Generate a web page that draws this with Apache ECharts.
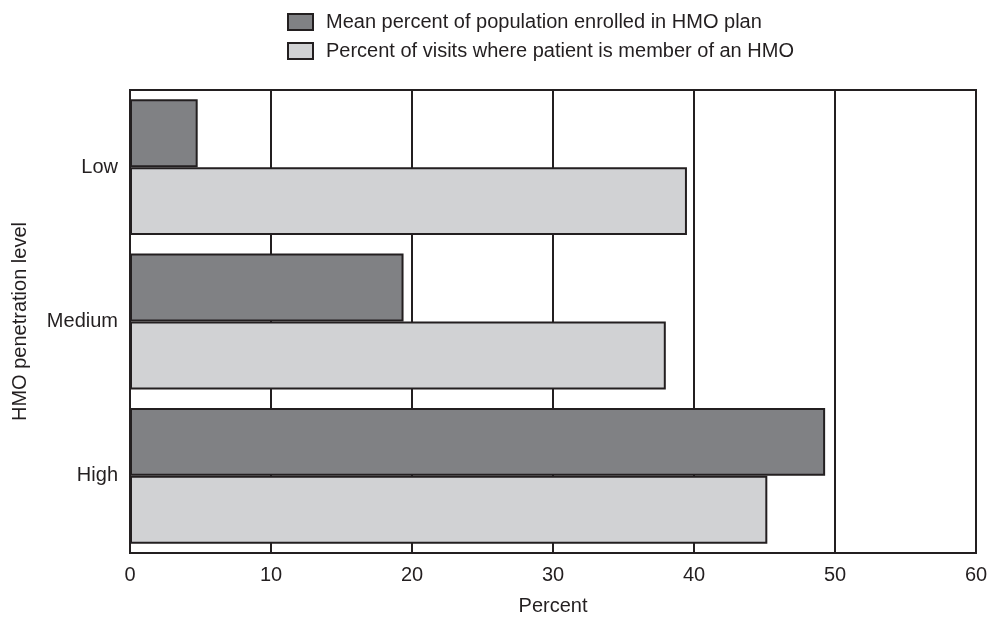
<!DOCTYPE html>
<html>
<head>
<meta charset="utf-8">
<script src="https://cdn.jsdelivr.net/npm/echarts@6/dist/echarts.min.js"></script>
<style>html,body{margin:0;padding:0;background:#fff;}#c{width:990px;height:617px;}</style>
</head>
<body>
<div id="c"></div>
<script>
const categories = ['Low', 'Medium', 'High'];
const seriesNames = ['Mean percent of population enrolled in HMO plan', 'Percent of visits where patient is member of an HMO'];
const meanEnrolled = [4.8, 19.4, 49.3];
const visitsHMO = [39.5, 38.0, 45.2];
const xTicks = [0, 10, 20, 30, 40, 50, 60];

const ink = '#231f20';
const font = 'Liberation Sans, Arial, Helvetica, sans-serif';
const fs = 20;
const chart = echarts.init(document.getElementById('c'));
chart.setOption({
  animation: false,
  backgroundColor: '#fff',
  legend: {
    orient: 'vertical', left: 282, top: 7,
    itemWidth: 25, itemHeight: 16, itemGap: 9,
    icon: 'rect',
    textStyle: { fontFamily: font, fontSize: fs, color: ink, padding: [0, 0, 0, 8] },
    data: seriesNames
  },
  grid: { left: 130, right: 14, top: 90, bottom: 64, show: true, borderColor: ink, borderWidth: 2,
          containLabel: false, outerBoundsMode: 'none' },
  xAxis: {
    type: 'value', min: xTicks[0], max: xTicks[xTicks.length - 1], interval: 10,
    name: 'Percent', nameLocation: 'middle', nameGap: 43,
    nameTextStyle: { fontFamily: font, fontSize: fs, color: ink },
    axisLine: { show: true, lineStyle: { color: ink, width: 2 } },
    axisTick: { show: false },
    axisLabel: { fontFamily: font, fontSize: fs, color: ink, margin: 12 },
    splitLine: { show: true, lineStyle: { color: ink, width: 2 } }
  },
  yAxis: {
    type: 'category', data: categories, inverse: true,
    name: 'HMO penetration level', nameLocation: 'middle', nameGap: 100, nameRotate: 90,
    nameTextStyle: { fontFamily: font, fontSize: fs, color: ink },
    axisLine: { show: true, lineStyle: { color: ink, width: 2 } },
    axisTick: { show: false },
    axisLabel: { fontFamily: font, fontSize: fs, color: ink, margin: 12 }
  },
  series: [
    { name: seriesNames[0], type: 'bar', data: meanEnrolled, barGap: '0%', barCategoryGap: '12%',
      itemStyle: { color: '#808184', borderColor: ink, borderWidth: 2 } },
    { name: seriesNames[1], type: 'bar', data: visitsHMO, barGap: '0%', barCategoryGap: '12%',
      itemStyle: { color: '#d1d2d4', borderColor: ink, borderWidth: 2 } }
  ]
});
</script>
</body>
</html>
